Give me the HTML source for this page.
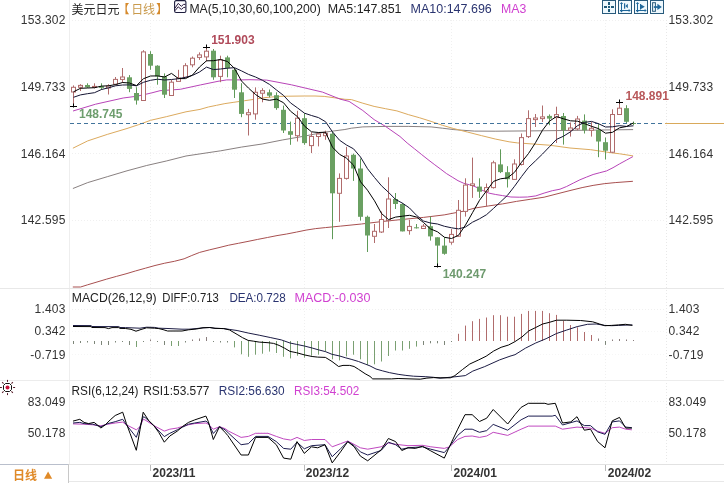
<!DOCTYPE html><html><head><meta charset="utf-8"><title>USDJPY</title><style>
html,body{margin:0;padding:0;background:#fff;width:724px;height:483px;overflow:hidden}
svg{display:block}
text{font-family:"Liberation Sans","Noto Sans CJK SC",sans-serif;font-size:12px}
.ax{fill:#333;letter-spacing:0.2px}
</style></head><body>
<svg width="724" height="483" viewBox="0 0 724 483">
<rect width="724" height="483" fill="#fff"/>
<line x1="69" y1="20.5" x2="666" y2="20.5" stroke="#f0f0f0" stroke-width="1" stroke-dasharray="1,2"/>
<line x1="69" y1="87.5" x2="666" y2="87.5" stroke="#f0f0f0" stroke-width="1" stroke-dasharray="1,2"/>
<line x1="69" y1="153.5" x2="666" y2="153.5" stroke="#f0f0f0" stroke-width="1" stroke-dasharray="1,2"/>
<line x1="69" y1="220.5" x2="666" y2="220.5" stroke="#f0f0f0" stroke-width="1" stroke-dasharray="1,2"/>
<line x1="69" y1="309.5" x2="666" y2="309.5" stroke="#f0f0f0" stroke-width="1" stroke-dasharray="1,2"/>
<line x1="69" y1="401.5" x2="666" y2="401.5" stroke="#f0f0f0" stroke-width="1" stroke-dasharray="1,2"/>
<line x1="69" y1="331.5" x2="666" y2="331.5" stroke="#f6f6f6" stroke-width="1" stroke-dasharray="1,2"/>
<line x1="69" y1="354.5" x2="666" y2="354.5" stroke="#f6f6f6" stroke-width="1" stroke-dasharray="1,2"/>
<line x1="69" y1="432.5" x2="666" y2="432.5" stroke="#f6f6f6" stroke-width="1" stroke-dasharray="1,2"/>
<line x1="150.5" y1="20" x2="150.5" y2="464" stroke="#f0f0f0" stroke-width="1" stroke-dasharray="1,2"/>
<line x1="304.5" y1="20" x2="304.5" y2="464" stroke="#f0f0f0" stroke-width="1" stroke-dasharray="1,2"/>
<line x1="451.5" y1="20" x2="451.5" y2="464" stroke="#f0f0f0" stroke-width="1" stroke-dasharray="1,2"/>
<line x1="605.5" y1="20" x2="605.5" y2="464" stroke="#f0f0f0" stroke-width="1" stroke-dasharray="1,2"/>
<line x1="69.5" y1="0" x2="69.5" y2="464" stroke="#eeeeee" stroke-width="1"/>
<line x1="666.5" y1="20" x2="666.5" y2="464" stroke="#e8e8e8" stroke-width="1" stroke-dasharray="1,2"/>
<line x1="0" y1="288.5" x2="724" y2="288.5" stroke="#e8e8e8" stroke-width="1"/>
<line x1="0" y1="380.5" x2="724" y2="380.5" stroke="#ececec" stroke-width="1"/>
<line x1="69" y1="464.5" x2="724" y2="464.5" stroke="#e2e2e2" stroke-width="1"/>
<line x1="69" y1="481.5" x2="724" y2="481.5" stroke="#e8e8e8" stroke-width="1"/>
<line x1="0" y1="464.5" x2="68" y2="464.5" stroke="#b9bfcc" stroke-width="1"/>
<line x1="68.5" y1="464" x2="68.5" y2="483" stroke="#c8c8c8" stroke-width="1"/>
<line x1="150.5" y1="465" x2="150.5" y2="471" stroke="#bbb" stroke-width="1"/>
<line x1="304.5" y1="465" x2="304.5" y2="471" stroke="#bbb" stroke-width="1"/>
<line x1="451.5" y1="465" x2="451.5" y2="471" stroke="#bbb" stroke-width="1"/>
<line x1="605.5" y1="465" x2="605.5" y2="471" stroke="#bbb" stroke-width="1"/>
<polyline points="72.8,287.0 80.6,287.0 87.3,284.9 97.0,282.0 106.7,279.1 116.4,276.4 126.0,273.8 135.7,270.9 145.4,268.2 155.0,265.5 164.7,263.2 174.4,261.3 184.1,258.8 191.8,255.5 199.7,252.4 209.3,249.9 219.0,247.6 228.7,245.2 238.4,243.3 248.0,241.4 257.7,239.4 267.4,237.5 277.0,235.6 286.7,234.0 296.4,232.1 306.1,230.1 315.7,228.6 325.4,227.6 340.7,226.1 361.4,224.0 382.1,221.5 402.8,219.4 423.5,217.4 444.2,214.9 463.5,211.2 475.0,208.0 488.8,205.9 502.6,203.9 516.4,201.4 530.2,199.3 544.1,197.2 560.0,193.1 571.0,190.3 582.1,187.6 593.1,185.4 604.2,183.7 615.2,182.6 632.9,181.3" fill="none" stroke="#a85050" stroke-width="1" stroke-linejoin="round" />
<polyline points="72.9,188.5 87.7,182.6 107.3,176.7 127.0,170.8 146.6,165.5 166.3,161.0 186.0,156.0 208.0,152.7 220.7,150.8 241.4,147.1 262.1,144.0 282.8,139.9 303.5,136.3 324.2,132.2 344.9,129.5 351.4,128.2 362.8,126.9 385.5,126.4 408.3,126.4 431.1,126.9 442.4,128.2 453.8,129.6 474.5,131.1 495.2,131.2 540.0,130.8 633.1,129.6" fill="none" stroke="#7a7272" stroke-width="0.9" stroke-linejoin="round" />
<polyline points="72.9,148.2 87.7,140.9 107.3,134.4 127.0,128.5 138.8,124.6 150.6,120.3 166.3,116.7 186.0,111.8 200.0,109.4 208.3,107.0 216.6,105.3 224.9,103.6 233.1,102.4 244.7,100.7 253.0,99.5 263.3,97.8 271.6,97.0 279.9,96.4 288.1,96.2 304.7,96.0 315.0,96.0 324.2,96.4 334.6,97.8 344.9,99.3 351.4,99.6 362.8,103.2 374.1,106.4 385.5,108.7 396.9,110.9 408.3,114.6 419.7,117.8 431.1,121.4 442.4,125.3 453.8,128.6 467.6,132.1 481.4,135.6 495.2,139.0 509.1,141.8 517.3,142.9 540.0,144.5 549.5,145.2 570.0,148.0 590.7,149.7 611.4,152.8 619.7,153.8 633.1,155.9" fill="none" stroke="#dcaa5e" stroke-width="1" stroke-linejoin="round" />
<polyline points="73.0,111.0 95.6,104.2 123.2,98.0 137.0,96.2 150.9,93.1 160.0,90.7 180.3,89.3 200.6,84.9 218.0,81.3 226.7,79.9 241.2,79.9 250.0,79.7 266.6,80.1 291.4,84.8 322.5,92.1 340.0,99.1 349.1,101.4 362.8,110.5 374.1,119.6 385.5,126.4 400.0,136.5 407.2,143.0 414.5,148.8 421.7,154.6 429.0,160.4 434.8,164.8 440.6,169.1 446.4,173.5 452.2,177.1 458.0,180.7 463.8,183.3 469.6,184.8 475.0,186.6 481.9,190.1 488.8,193.1 495.7,194.5 502.6,195.6 510.9,197.0 519.2,197.2 527.5,197.0 535.8,195.9 544.1,193.1 552.3,190.7 560.0,189.2 566.6,186.5 573.3,183.1 579.9,179.8 586.5,177.1 593.1,174.5 599.8,172.7 606.4,171.0 613.0,167.7 619.7,163.8 626.3,160.2 632.9,156.6" fill="none" stroke="#b844b8" stroke-width="1" stroke-linejoin="round" />
<line x1="70" y1="123.5" x2="665" y2="123.5" stroke="#42749c" stroke-width="1" stroke-dasharray="4,3"/>
<line x1="665" y1="123.5" x2="724" y2="123.5" stroke="#d9a95a" stroke-width="1"/>
<line x1="73.5" y1="85.4" x2="73.5" y2="87.3" stroke="#b06c6c"/>
<line x1="73.5" y1="92.0" x2="73.5" y2="106.5" stroke="#b06c6c"/>
<rect x="71.5" y="87.3" width="4" height="4.7" fill="#fff" stroke="#b06c6c"/>
<line x1="80.5" y1="84.2" x2="80.5" y2="85.4" stroke="#b06c6c"/>
<line x1="80.5" y1="87.3" x2="80.5" y2="91.0" stroke="#b06c6c"/>
<rect x="78.5" y="85.4" width="4" height="1.9" fill="#fff" stroke="#b06c6c"/>
<line x1="87.5" y1="83.3" x2="87.5" y2="87.9" stroke="#5f9a58"/>
<rect x="85.0" y="85.0" width="5" height="2.3" fill="#6aa062"/>
<line x1="94.5" y1="83.3" x2="94.5" y2="86.4" stroke="#b06c6c"/>
<line x1="94.5" y1="87.3" x2="94.5" y2="88.5" stroke="#b06c6c"/>
<rect x="92.5" y="86.4" width="4" height="1.0" fill="#fff" stroke="#b06c6c"/>
<line x1="101.5" y1="83.3" x2="101.5" y2="89.8" stroke="#5f9a58"/>
<rect x="99.0" y="86.3" width="5" height="1.6" fill="#6aa062"/>
<line x1="108.5" y1="84.2" x2="108.5" y2="86.0" stroke="#b06c6c"/>
<line x1="108.5" y1="88.0" x2="108.5" y2="94.5" stroke="#b06c6c"/>
<rect x="106.5" y="86.0" width="4" height="2.0" fill="#fff" stroke="#b06c6c"/>
<line x1="115.5" y1="77.0" x2="115.5" y2="79.4" stroke="#b06c6c"/>
<line x1="115.5" y1="84.2" x2="115.5" y2="85.4" stroke="#b06c6c"/>
<rect x="113.5" y="79.4" width="4" height="4.8" fill="#fff" stroke="#b06c6c"/>
<line x1="122.5" y1="68.0" x2="122.5" y2="77.0" stroke="#b06c6c"/>
<line x1="122.5" y1="79.4" x2="122.5" y2="83.0" stroke="#b06c6c"/>
<rect x="120.5" y="77.0" width="4" height="2.4" fill="#fff" stroke="#b06c6c"/>
<line x1="129.5" y1="75.1" x2="129.5" y2="92.2" stroke="#5f9a58"/>
<rect x="127.0" y="77.3" width="5" height="11.6" fill="#6aa062"/>
<line x1="136.5" y1="87.2" x2="136.5" y2="104.6" stroke="#5f9a58"/>
<rect x="134.0" y="93.0" width="5" height="7.5" fill="#6aa062"/>
<line x1="143.5" y1="50.2" x2="143.5" y2="51.9" stroke="#b06c6c"/>
<line x1="143.5" y1="100.5" x2="143.5" y2="100.5" stroke="#b06c6c"/>
<rect x="141.5" y="51.9" width="4" height="48.6" fill="#fff" stroke="#b06c6c"/>
<line x1="150.5" y1="51.2" x2="150.5" y2="69.8" stroke="#5f9a58"/>
<rect x="148.0" y="54.0" width="5" height="11.7" fill="#6aa062"/>
<line x1="157.5" y1="65.2" x2="157.5" y2="84.7" stroke="#5f9a58"/>
<rect x="155.0" y="65.7" width="5" height="10.7" fill="#6aa062"/>
<line x1="164.5" y1="73.4" x2="164.5" y2="98.0" stroke="#5f9a58"/>
<rect x="162.0" y="76.4" width="5" height="18.3" fill="#6aa062"/>
<line x1="171.5" y1="80.0" x2="171.5" y2="82.2" stroke="#b06c6c"/>
<line x1="171.5" y1="95.5" x2="171.5" y2="95.5" stroke="#b06c6c"/>
<rect x="169.5" y="82.2" width="4" height="13.3" fill="#fff" stroke="#b06c6c"/>
<line x1="178.5" y1="69.8" x2="178.5" y2="78.0" stroke="#b06c6c"/>
<line x1="178.5" y1="81.4" x2="178.5" y2="81.4" stroke="#b06c6c"/>
<rect x="176.5" y="78.0" width="4" height="3.4" fill="#fff" stroke="#b06c6c"/>
<line x1="185.5" y1="63.2" x2="185.5" y2="65.7" stroke="#b06c6c"/>
<line x1="185.5" y1="77.3" x2="185.5" y2="78.0" stroke="#b06c6c"/>
<rect x="183.5" y="65.7" width="4" height="11.6" fill="#fff" stroke="#b06c6c"/>
<line x1="192.5" y1="56.5" x2="192.5" y2="58.2" stroke="#b06c6c"/>
<line x1="192.5" y1="64.8" x2="192.5" y2="67.3" stroke="#b06c6c"/>
<rect x="190.5" y="58.2" width="4" height="6.6" fill="#fff" stroke="#b06c6c"/>
<line x1="199.5" y1="52.4" x2="199.5" y2="54.9" stroke="#b06c6c"/>
<line x1="199.5" y1="57.4" x2="199.5" y2="59.9" stroke="#b06c6c"/>
<rect x="197.5" y="54.9" width="4" height="2.5" fill="#fff" stroke="#b06c6c"/>
<line x1="206.5" y1="46.6" x2="206.5" y2="51.2" stroke="#b06c6c"/>
<line x1="206.5" y1="56.9" x2="206.5" y2="61.5" stroke="#b06c6c"/>
<rect x="204.5" y="51.2" width="4" height="5.7" fill="#fff" stroke="#b06c6c"/>
<line x1="213.5" y1="49.0" x2="213.5" y2="79.8" stroke="#5f9a58"/>
<rect x="211.0" y="50.7" width="5" height="26.6" fill="#6aa062"/>
<line x1="220.5" y1="55.7" x2="220.5" y2="59.9" stroke="#b06c6c"/>
<line x1="220.5" y1="76.4" x2="220.5" y2="82.2" stroke="#b06c6c"/>
<rect x="218.5" y="59.9" width="4" height="16.5" fill="#fff" stroke="#b06c6c"/>
<line x1="227.5" y1="55.7" x2="227.5" y2="77.3" stroke="#5f9a58"/>
<rect x="225.0" y="57.4" width="5" height="10.7" fill="#6aa062"/>
<line x1="234.5" y1="68.1" x2="234.5" y2="98.0" stroke="#5f9a58"/>
<rect x="232.0" y="69.8" width="5" height="19.9" fill="#6aa062"/>
<line x1="241.5" y1="83.2" x2="241.5" y2="117.2" stroke="#5f9a58"/>
<rect x="239.0" y="92.3" width="5" height="21.6" fill="#6aa062"/>
<line x1="248.5" y1="108.9" x2="248.5" y2="112.7" stroke="#b06c6c"/>
<line x1="248.5" y1="114.7" x2="248.5" y2="135.5" stroke="#b06c6c"/>
<rect x="246.5" y="112.7" width="4" height="2.0" fill="#fff" stroke="#b06c6c"/>
<line x1="255.5" y1="87.4" x2="255.5" y2="92.3" stroke="#b06c6c"/>
<line x1="255.5" y1="113.9" x2="255.5" y2="119.7" stroke="#b06c6c"/>
<rect x="253.5" y="92.3" width="4" height="21.6" fill="#fff" stroke="#b06c6c"/>
<line x1="262.5" y1="88.2" x2="262.5" y2="90.7" stroke="#b06c6c"/>
<line x1="262.5" y1="93.2" x2="262.5" y2="102.3" stroke="#b06c6c"/>
<rect x="260.5" y="90.7" width="4" height="2.5" fill="#fff" stroke="#b06c6c"/>
<line x1="269.5" y1="89.5" x2="269.5" y2="97.3" stroke="#5f9a58"/>
<rect x="267.0" y="92.3" width="5" height="3.4" fill="#6aa062"/>
<line x1="276.5" y1="92.3" x2="276.5" y2="109.8" stroke="#5f9a58"/>
<rect x="274.0" y="95.2" width="5" height="12.9" fill="#6aa062"/>
<line x1="283.5" y1="105.6" x2="283.5" y2="133.0" stroke="#5f9a58"/>
<rect x="281.0" y="109.8" width="5" height="20.7" fill="#6aa062"/>
<line x1="290.5" y1="121.6" x2="290.5" y2="144.8" stroke="#5f9a58"/>
<rect x="288.0" y="131.2" width="5" height="3.6" fill="#6aa062"/>
<line x1="297.5" y1="110.8" x2="297.5" y2="118.2" stroke="#b06c6c"/>
<line x1="297.5" y1="135.7" x2="297.5" y2="141.5" stroke="#b06c6c"/>
<rect x="295.5" y="118.2" width="4" height="17.5" fill="#fff" stroke="#b06c6c"/>
<line x1="304.5" y1="113.3" x2="304.5" y2="144.8" stroke="#5f9a58"/>
<rect x="302.0" y="118.2" width="5" height="24.9" fill="#6aa062"/>
<line x1="311.5" y1="132.3" x2="311.5" y2="136.5" stroke="#b06c6c"/>
<line x1="311.5" y1="145.6" x2="311.5" y2="153.1" stroke="#b06c6c"/>
<rect x="309.5" y="136.5" width="4" height="9.1" fill="#fff" stroke="#b06c6c"/>
<line x1="318.5" y1="132.3" x2="318.5" y2="134.0" stroke="#b06c6c"/>
<line x1="318.5" y1="136.5" x2="318.5" y2="146.4" stroke="#b06c6c"/>
<rect x="316.5" y="134.0" width="4" height="2.5" fill="#fff" stroke="#b06c6c"/>
<line x1="325.5" y1="130.7" x2="325.5" y2="133.2" stroke="#b06c6c"/>
<line x1="325.5" y1="135.7" x2="325.5" y2="139.8" stroke="#b06c6c"/>
<rect x="323.5" y="133.2" width="4" height="2.5" fill="#fff" stroke="#b06c6c"/>
<line x1="332.5" y1="131.2" x2="332.5" y2="239.2" stroke="#5f9a58"/>
<rect x="330.0" y="133.7" width="5" height="59.6" fill="#6aa062"/>
<line x1="339.5" y1="173.4" x2="339.5" y2="178.4" stroke="#b06c6c"/>
<line x1="339.5" y1="193.3" x2="339.5" y2="221.8" stroke="#b06c6c"/>
<rect x="337.5" y="178.4" width="4" height="14.9" fill="#fff" stroke="#b06c6c"/>
<line x1="346.5" y1="146.9" x2="346.5" y2="156.0" stroke="#b06c6c"/>
<line x1="346.5" y1="178.4" x2="346.5" y2="179.6" stroke="#b06c6c"/>
<rect x="344.5" y="156.0" width="4" height="22.4" fill="#fff" stroke="#b06c6c"/>
<line x1="353.5" y1="153.6" x2="353.5" y2="180.9" stroke="#5f9a58"/>
<rect x="351.0" y="154.8" width="5" height="13.7" fill="#6aa062"/>
<line x1="360.5" y1="158.5" x2="360.5" y2="220.6" stroke="#5f9a58"/>
<rect x="358.0" y="168.5" width="5" height="48.3" fill="#6aa062"/>
<line x1="367.5" y1="215.6" x2="367.5" y2="252.0" stroke="#5f9a58"/>
<rect x="365.0" y="216.8" width="5" height="18.7" fill="#6aa062"/>
<line x1="374.5" y1="224.0" x2="374.5" y2="231.3" stroke="#b06c6c"/>
<line x1="374.5" y1="236.3" x2="374.5" y2="243.0" stroke="#b06c6c"/>
<rect x="372.5" y="231.3" width="4" height="5.0" fill="#fff" stroke="#b06c6c"/>
<line x1="381.5" y1="211.5" x2="381.5" y2="219.5" stroke="#b06c6c"/>
<line x1="381.5" y1="232.0" x2="381.5" y2="233.0" stroke="#b06c6c"/>
<rect x="379.5" y="219.5" width="4" height="12.5" fill="#fff" stroke="#b06c6c"/>
<line x1="388.5" y1="177.3" x2="388.5" y2="199.0" stroke="#b06c6c"/>
<line x1="388.5" y1="220.6" x2="388.5" y2="228.0" stroke="#b06c6c"/>
<rect x="386.5" y="199.0" width="4" height="21.6" fill="#fff" stroke="#b06c6c"/>
<line x1="395.5" y1="193.0" x2="395.5" y2="209.0" stroke="#5f9a58"/>
<rect x="393.0" y="199.0" width="5" height="5.0" fill="#6aa062"/>
<line x1="402.5" y1="203.0" x2="402.5" y2="231.4" stroke="#5f9a58"/>
<rect x="400.0" y="204.0" width="5" height="27.4" fill="#6aa062"/>
<line x1="409.5" y1="219.8" x2="409.5" y2="226.4" stroke="#b06c6c"/>
<line x1="409.5" y1="230.6" x2="409.5" y2="234.7" stroke="#b06c6c"/>
<rect x="407.5" y="226.4" width="4" height="4.2" fill="#fff" stroke="#b06c6c"/>
<line x1="416.5" y1="224.0" x2="416.5" y2="228.5" stroke="#5f9a58"/>
<rect x="414.0" y="227.3" width="5" height="1.0" fill="#6aa062"/>
<line x1="423.5" y1="224.0" x2="423.5" y2="226.2" stroke="#b06c6c"/>
<line x1="423.5" y1="228.5" x2="423.5" y2="228.5" stroke="#b06c6c"/>
<rect x="421.5" y="226.2" width="4" height="2.3" fill="#fff" stroke="#b06c6c"/>
<line x1="430.5" y1="216.5" x2="430.5" y2="240.6" stroke="#5f9a58"/>
<rect x="428.0" y="226.2" width="5" height="10.2" fill="#6aa062"/>
<line x1="437.5" y1="237.3" x2="437.5" y2="266.3" stroke="#5f9a58"/>
<rect x="435.0" y="237.3" width="5" height="8.3" fill="#6aa062"/>
<line x1="444.5" y1="237.3" x2="444.5" y2="254.7" stroke="#5f9a58"/>
<rect x="442.0" y="245.6" width="5" height="8.2" fill="#6aa062"/>
<line x1="451.5" y1="229.0" x2="451.5" y2="234.4" stroke="#b06c6c"/>
<line x1="451.5" y1="242.2" x2="451.5" y2="244.7" stroke="#b06c6c"/>
<rect x="449.5" y="234.4" width="4" height="7.8" fill="#fff" stroke="#b06c6c"/>
<line x1="458.5" y1="200.0" x2="458.5" y2="210.3" stroke="#b06c6c"/>
<line x1="458.5" y1="236.2" x2="458.5" y2="237.0" stroke="#b06c6c"/>
<rect x="456.5" y="210.3" width="4" height="25.9" fill="#fff" stroke="#b06c6c"/>
<line x1="465.5" y1="178.3" x2="465.5" y2="185.1" stroke="#b06c6c"/>
<line x1="465.5" y1="211.4" x2="465.5" y2="216.6" stroke="#b06c6c"/>
<rect x="463.5" y="185.1" width="4" height="26.3" fill="#fff" stroke="#b06c6c"/>
<line x1="472.5" y1="157.6" x2="472.5" y2="183.9" stroke="#b06c6c"/>
<line x1="472.5" y1="185.5" x2="472.5" y2="197.9" stroke="#b06c6c"/>
<rect x="470.5" y="183.9" width="4" height="1.6" fill="#fff" stroke="#b06c6c"/>
<line x1="479.5" y1="178.3" x2="479.5" y2="197.9" stroke="#5f9a58"/>
<rect x="477.0" y="186.6" width="5" height="5.1" fill="#6aa062"/>
<line x1="486.5" y1="183.5" x2="486.5" y2="187.6" stroke="#b06c6c"/>
<line x1="486.5" y1="191.3" x2="486.5" y2="206.2" stroke="#b06c6c"/>
<rect x="484.5" y="187.6" width="4" height="3.7" fill="#fff" stroke="#b06c6c"/>
<line x1="493.5" y1="160.7" x2="493.5" y2="162.8" stroke="#b06c6c"/>
<line x1="493.5" y1="187.6" x2="493.5" y2="188.6" stroke="#b06c6c"/>
<rect x="491.5" y="162.8" width="4" height="24.8" fill="#fff" stroke="#b06c6c"/>
<line x1="500.5" y1="149.3" x2="500.5" y2="173.1" stroke="#5f9a58"/>
<rect x="498.0" y="164.4" width="5" height="7.7" fill="#6aa062"/>
<line x1="507.5" y1="166.2" x2="507.5" y2="187.5" stroke="#5f9a58"/>
<rect x="505.0" y="172.2" width="5" height="7.0" fill="#6aa062"/>
<line x1="514.5" y1="159.3" x2="514.5" y2="164.0" stroke="#b06c6c"/>
<line x1="514.5" y1="179.4" x2="514.5" y2="180.0" stroke="#b06c6c"/>
<rect x="512.5" y="164.0" width="4" height="15.4" fill="#fff" stroke="#b06c6c"/>
<line x1="521.5" y1="133.5" x2="521.5" y2="137.6" stroke="#b06c6c"/>
<line x1="521.5" y1="164.5" x2="521.5" y2="165.5" stroke="#b06c6c"/>
<rect x="519.5" y="137.6" width="4" height="26.9" fill="#fff" stroke="#b06c6c"/>
<line x1="528.5" y1="110.3" x2="528.5" y2="118.6" stroke="#b06c6c"/>
<line x1="528.5" y1="136.6" x2="528.5" y2="138.0" stroke="#b06c6c"/>
<rect x="526.5" y="118.6" width="4" height="18.0" fill="#fff" stroke="#b06c6c"/>
<line x1="535.5" y1="114.0" x2="535.5" y2="118.0" stroke="#b06c6c"/>
<line x1="535.5" y1="119.6" x2="535.5" y2="127.0" stroke="#b06c6c"/>
<rect x="533.5" y="118.0" width="4" height="1.6" fill="#fff" stroke="#b06c6c"/>
<line x1="542.5" y1="105.5" x2="542.5" y2="116.9" stroke="#b06c6c"/>
<line x1="542.5" y1="118.6" x2="542.5" y2="122.0" stroke="#b06c6c"/>
<rect x="540.5" y="116.9" width="4" height="1.7" fill="#fff" stroke="#b06c6c"/>
<line x1="549.5" y1="114.4" x2="549.5" y2="125.2" stroke="#5f9a58"/>
<rect x="547.0" y="115.9" width="5" height="2.7" fill="#6aa062"/>
<line x1="556.5" y1="106.7" x2="556.5" y2="114.6" stroke="#b06c6c"/>
<line x1="556.5" y1="117.6" x2="556.5" y2="143.0" stroke="#b06c6c"/>
<rect x="554.5" y="114.6" width="4" height="3.0" fill="#fff" stroke="#b06c6c"/>
<line x1="563.5" y1="113.0" x2="563.5" y2="144.6" stroke="#5f9a58"/>
<rect x="561.0" y="116.0" width="5" height="14.0" fill="#6aa062"/>
<line x1="570.5" y1="122.5" x2="570.5" y2="128.0" stroke="#b06c6c"/>
<line x1="570.5" y1="130.3" x2="570.5" y2="136.6" stroke="#b06c6c"/>
<rect x="568.5" y="128.0" width="4" height="2.3" fill="#fff" stroke="#b06c6c"/>
<line x1="577.5" y1="115.9" x2="577.5" y2="119.0" stroke="#b06c6c"/>
<line x1="577.5" y1="128.9" x2="577.5" y2="130.3" stroke="#b06c6c"/>
<rect x="575.5" y="119.0" width="4" height="9.9" fill="#fff" stroke="#b06c6c"/>
<line x1="584.5" y1="114.4" x2="584.5" y2="133.5" stroke="#5f9a58"/>
<rect x="582.0" y="120.6" width="5" height="9.7" fill="#6aa062"/>
<line x1="591.5" y1="122.1" x2="591.5" y2="128.3" stroke="#b06c6c"/>
<line x1="591.5" y1="130.3" x2="591.5" y2="136.6" stroke="#b06c6c"/>
<rect x="589.5" y="128.3" width="4" height="2.0" fill="#fff" stroke="#b06c6c"/>
<line x1="598.5" y1="124.1" x2="598.5" y2="157.2" stroke="#5f9a58"/>
<rect x="596.0" y="130.0" width="5" height="11.5" fill="#6aa062"/>
<line x1="605.5" y1="137.5" x2="605.5" y2="159.5" stroke="#5f9a58"/>
<rect x="603.0" y="142.2" width="5" height="8.5" fill="#6aa062"/>
<line x1="612.5" y1="109.3" x2="612.5" y2="114.5" stroke="#b06c6c"/>
<line x1="612.5" y1="152.2" x2="612.5" y2="153.0" stroke="#b06c6c"/>
<rect x="610.5" y="114.5" width="4" height="37.7" fill="#fff" stroke="#b06c6c"/>
<line x1="619.5" y1="102.4" x2="619.5" y2="108.2" stroke="#b06c6c"/>
<line x1="619.5" y1="114.5" x2="619.5" y2="114.5" stroke="#b06c6c"/>
<rect x="617.5" y="108.2" width="4" height="6.3" fill="#fff" stroke="#b06c6c"/>
<line x1="626.5" y1="105.2" x2="626.5" y2="123.1" stroke="#5f9a58"/>
<rect x="624.0" y="108.2" width="5" height="13.6" fill="#6aa062"/>
<line x1="633.5" y1="121.5" x2="633.5" y2="125.0" stroke="#5f9a58"/>
<rect x="631.0" y="123.0" width="5" height="1.0" fill="#6aa062"/>
<polyline points="73.5,97.3 80.5,94.9 87.5,93.7 94.5,92.7 101.5,89.5 108.5,87.8 115.5,85.8 122.5,85.0 129.5,84.9 136.5,85.8 143.5,82.3 150.5,80.3 157.5,79.2 164.5,80.0 171.5,79.5 178.5,78.7 185.5,77.3 192.5,75.4 199.5,72.0 206.5,67.1 213.5,69.6 220.5,69.0 227.5,68.2 234.5,67.7 241.5,70.9 248.5,74.4 255.5,77.0 262.5,80.3 269.5,84.4 276.5,90.0 283.5,95.4 290.5,102.9 297.5,107.9 304.5,113.2 311.5,115.5 318.5,117.6 325.5,121.7 332.5,131.9 339.5,140.2 346.5,145.0 353.5,148.8 360.5,157.0 367.5,168.7 374.5,177.5 381.5,185.8 388.5,192.3 395.5,199.4 402.5,203.2 409.5,208.0 416.5,215.3 423.5,221.0 430.5,223.0 437.5,224.0 444.5,226.3 451.5,227.8 458.5,228.9 465.5,227.0 472.5,222.2 479.5,218.8 486.5,214.7 493.5,208.4 500.5,201.9 507.5,195.3 514.5,186.3 521.5,176.6 528.5,167.5 535.5,160.8 542.5,154.0 549.5,146.7 556.5,139.4 563.5,136.2 570.5,131.8 577.5,125.7 584.5,122.4 591.5,121.4 598.5,123.7 605.5,127.0 612.5,126.8 619.5,125.7 626.5,126.4 633.5,125.8" fill="none" stroke="#141432" stroke-width="1" stroke-linejoin="round" />
<polyline points="73.5,91.8 80.5,88.3 87.5,88.0 94.5,87.7 101.5,86.1 108.5,85.8 115.5,84.6 122.5,82.5 129.5,83.0 136.5,85.6 143.5,78.7 150.5,76.0 157.5,75.9 164.5,77.0 171.5,73.4 178.5,78.6 185.5,78.6 192.5,75.0 199.5,67.0 206.5,60.8 213.5,60.7 220.5,59.5 227.5,61.5 234.5,68.4 241.5,81.0 248.5,88.1 255.5,94.5 262.5,99.1 269.5,100.3 276.5,99.1 283.5,102.7 290.5,111.2 297.5,116.7 304.5,126.1 311.5,131.8 318.5,132.5 325.5,132.2 332.5,147.2 339.5,154.3 346.5,158.2 353.5,165.1 360.5,181.8 367.5,190.2 374.5,200.8 381.5,213.5 388.5,219.6 395.5,217.1 402.5,216.2 409.5,215.3 416.5,217.0 423.5,222.5 430.5,228.9 437.5,231.8 444.5,237.3 451.5,238.5 458.5,235.3 465.5,225.0 472.5,212.7 479.5,200.3 486.5,190.9 493.5,181.4 500.5,178.8 507.5,177.9 514.5,172.3 521.5,162.3 528.5,153.5 535.5,142.7 542.5,130.2 549.5,121.1 556.5,116.5 563.5,118.8 570.5,120.8 577.5,121.2 584.5,123.6 591.5,126.3 598.5,128.6 605.5,133.2 612.5,132.3 619.5,127.8 626.5,126.5 633.5,122.9" fill="none" stroke="#000" stroke-width="1" stroke-linejoin="round" />
<line x1="70.0" y1="106.5" x2="77.0" y2="106.5" stroke="#000"/>
<line x1="73.5" y1="103.5" x2="73.5" y2="107.5" stroke="#000"/>
<line x1="203.0" y1="47.5" x2="210.0" y2="47.5" stroke="#000"/>
<line x1="206.5" y1="44.5" x2="206.5" y2="48.5" stroke="#000"/>
<line x1="434.0" y1="266.5" x2="441.0" y2="266.5" stroke="#000"/>
<line x1="437.5" y1="263.5" x2="437.5" y2="267.5" stroke="#000"/>
<line x1="616.0" y1="102.5" x2="623.0" y2="102.5" stroke="#000"/>
<line x1="619.5" y1="99.5" x2="619.5" y2="103.5" stroke="#000"/>
<text x="211.2" y="44" font-weight="bold" fill="#b04a5a">151.903</text>
<text x="625.5" y="99.5" font-weight="bold" fill="#b8585a">148.891</text>
<text x="79" y="117.5" font-weight="bold" fill="#6e9e6e">148.745</text>
<text x="442.7" y="278" font-weight="bold" fill="#6e9a6e">140.247</text>
<line x1="73.5" y1="341.0" x2="73.5" y2="344.0" stroke="#7d8679"/>
<line x1="80.5" y1="341.0" x2="80.5" y2="343.0" stroke="#7d8679"/>
<line x1="87.5" y1="341.0" x2="87.5" y2="342.5" stroke="#7d8679"/>
<line x1="94.5" y1="341.0" x2="94.5" y2="344.0" stroke="#7d8679"/>
<line x1="101.5" y1="341.0" x2="101.5" y2="345.0" stroke="#7d8679"/>
<line x1="108.5" y1="341.0" x2="108.5" y2="345.0" stroke="#7d8679"/>
<line x1="115.5" y1="341.0" x2="115.5" y2="342.5" stroke="#7d8679"/>
<line x1="122.5" y1="341.0" x2="122.5" y2="342.0" stroke="#7d8679"/>
<line x1="129.5" y1="341.0" x2="129.5" y2="345.0" stroke="#7d8679"/>
<line x1="136.5" y1="341.0" x2="136.5" y2="347.0" stroke="#7aa072"/>
<line x1="143.5" y1="341.0" x2="143.5" y2="342.0" stroke="#7d8679"/>
<line x1="150.5" y1="341.0" x2="150.5" y2="339.5" stroke="#8a7d7d"/>
<line x1="157.5" y1="341.0" x2="157.5" y2="342.0" stroke="#7d8679"/>
<line x1="164.5" y1="341.0" x2="164.5" y2="345.0" stroke="#7d8679"/>
<line x1="171.5" y1="341.0" x2="171.5" y2="346.0" stroke="#7aa072"/>
<line x1="178.5" y1="341.0" x2="178.5" y2="346.0" stroke="#7aa072"/>
<line x1="185.5" y1="341.0" x2="185.5" y2="342.5" stroke="#7d8679"/>
<line x1="192.5" y1="341.0" x2="192.5" y2="339.5" stroke="#8a7d7d"/>
<line x1="199.5" y1="341.0" x2="199.5" y2="338.5" stroke="#8a7d7d"/>
<line x1="206.5" y1="341.0" x2="206.5" y2="337.0" stroke="#8a7d7d"/>
<line x1="213.5" y1="341.0" x2="213.5" y2="342.0" stroke="#7d8679"/>
<line x1="220.5" y1="341.0" x2="220.5" y2="342.5" stroke="#7d8679"/>
<line x1="227.5" y1="341.0" x2="227.5" y2="342.5" stroke="#7d8679"/>
<line x1="234.5" y1="341.0" x2="234.5" y2="347.4" stroke="#7aa072"/>
<line x1="241.5" y1="341.0" x2="241.5" y2="354.3" stroke="#7aa072"/>
<line x1="248.5" y1="341.0" x2="248.5" y2="356.8" stroke="#7aa072"/>
<line x1="255.5" y1="341.0" x2="255.5" y2="354.7" stroke="#7aa072"/>
<line x1="262.5" y1="341.0" x2="262.5" y2="353.7" stroke="#7aa072"/>
<line x1="269.5" y1="341.0" x2="269.5" y2="351.6" stroke="#7aa072"/>
<line x1="276.5" y1="341.0" x2="276.5" y2="353.0" stroke="#7aa072"/>
<line x1="283.5" y1="341.0" x2="283.5" y2="356.8" stroke="#7aa072"/>
<line x1="290.5" y1="341.0" x2="290.5" y2="358.4" stroke="#7aa072"/>
<line x1="297.5" y1="341.0" x2="297.5" y2="355.7" stroke="#7aa072"/>
<line x1="304.5" y1="341.0" x2="304.5" y2="357.7" stroke="#7aa072"/>
<line x1="311.5" y1="341.0" x2="311.5" y2="355.7" stroke="#7aa072"/>
<line x1="318.5" y1="341.0" x2="318.5" y2="354.7" stroke="#7aa072"/>
<line x1="325.5" y1="341.0" x2="325.5" y2="351.6" stroke="#7aa072"/>
<line x1="332.5" y1="341.0" x2="332.5" y2="359.3" stroke="#7aa072"/>
<line x1="339.5" y1="341.0" x2="339.5" y2="360.4" stroke="#7aa072"/>
<line x1="346.5" y1="341.0" x2="346.5" y2="356.4" stroke="#7aa072"/>
<line x1="353.5" y1="341.0" x2="353.5" y2="354.7" stroke="#7aa072"/>
<line x1="360.5" y1="341.0" x2="360.5" y2="359.3" stroke="#7aa072"/>
<line x1="367.5" y1="341.0" x2="367.5" y2="364.8" stroke="#7aa072"/>
<line x1="374.5" y1="341.0" x2="374.5" y2="364.3" stroke="#7aa072"/>
<line x1="381.5" y1="341.0" x2="381.5" y2="361.5" stroke="#7aa072"/>
<line x1="388.5" y1="341.0" x2="388.5" y2="356.0" stroke="#7aa072"/>
<line x1="395.5" y1="341.0" x2="395.5" y2="350.5" stroke="#7aa072"/>
<line x1="402.5" y1="341.0" x2="402.5" y2="350.5" stroke="#7aa072"/>
<line x1="409.5" y1="341.0" x2="409.5" y2="348.8" stroke="#7aa072"/>
<line x1="416.5" y1="341.0" x2="416.5" y2="346.6" stroke="#7aa072"/>
<line x1="423.5" y1="341.0" x2="423.5" y2="345.0" stroke="#7d8679"/>
<line x1="430.5" y1="341.0" x2="430.5" y2="343.3" stroke="#7d8679"/>
<line x1="437.5" y1="341.0" x2="437.5" y2="343.3" stroke="#7d8679"/>
<line x1="444.5" y1="341.0" x2="444.5" y2="345.0" stroke="#7d8679"/>
<line x1="451.5" y1="341.0" x2="451.5" y2="342.0" stroke="#7d8679"/>
<line x1="458.5" y1="341.0" x2="458.5" y2="333.8" stroke="#b06c6c"/>
<line x1="465.5" y1="341.0" x2="465.5" y2="325.6" stroke="#b06c6c"/>
<line x1="472.5" y1="341.0" x2="472.5" y2="321.2" stroke="#b06c6c"/>
<line x1="479.5" y1="341.0" x2="479.5" y2="318.9" stroke="#b06c6c"/>
<line x1="486.5" y1="341.0" x2="486.5" y2="317.5" stroke="#b06c6c"/>
<line x1="493.5" y1="341.0" x2="493.5" y2="315.2" stroke="#b06c6c"/>
<line x1="500.5" y1="341.0" x2="500.5" y2="315.2" stroke="#b06c6c"/>
<line x1="507.5" y1="341.0" x2="507.5" y2="316.7" stroke="#b06c6c"/>
<line x1="514.5" y1="341.0" x2="514.5" y2="316.7" stroke="#b06c6c"/>
<line x1="521.5" y1="341.0" x2="521.5" y2="313.9" stroke="#b06c6c"/>
<line x1="528.5" y1="341.0" x2="528.5" y2="310.9" stroke="#b06c6c"/>
<line x1="535.5" y1="341.0" x2="535.5" y2="310.9" stroke="#b06c6c"/>
<line x1="542.5" y1="341.0" x2="542.5" y2="310.9" stroke="#b06c6c"/>
<line x1="549.5" y1="341.0" x2="549.5" y2="313.2" stroke="#b06c6c"/>
<line x1="556.5" y1="341.0" x2="556.5" y2="314.9" stroke="#b06c6c"/>
<line x1="563.5" y1="341.0" x2="563.5" y2="321.0" stroke="#b06c6c"/>
<line x1="570.5" y1="341.0" x2="570.5" y2="325.0" stroke="#b06c6c"/>
<line x1="577.5" y1="341.0" x2="577.5" y2="327.3" stroke="#b06c6c"/>
<line x1="584.5" y1="341.0" x2="584.5" y2="332.0" stroke="#b06c6c"/>
<line x1="591.5" y1="341.0" x2="591.5" y2="335.0" stroke="#b06c6c"/>
<line x1="598.5" y1="341.0" x2="598.5" y2="338.5" stroke="#8a7d7d"/>
<line x1="605.5" y1="341.0" x2="605.5" y2="344.9" stroke="#7d8679"/>
<line x1="612.5" y1="341.0" x2="612.5" y2="339.5" stroke="#8a7d7d"/>
<line x1="619.5" y1="341.0" x2="619.5" y2="339.0" stroke="#8a7d7d"/>
<line x1="626.5" y1="341.0" x2="626.5" y2="339.5" stroke="#8a7d7d"/>
<line x1="633.5" y1="341.0" x2="633.5" y2="340.0" stroke="#8a7d7d"/>
<polyline points="73.0,325.5 91.0,325.6 92.0,326.5 105.0,326.6 118.8,326.6 120.0,327.5 125.5,327.6 140.0,328.2 146.6,327.2 154.4,327.4 158.8,328.2 168.0,328.5 182.0,329.2 189.0,329.2 196.0,328.6 203.0,327.8 210.0,327.5 215.0,328.3 223.8,328.6 229.4,329.4 237.1,330.5 248.1,333.0 259.2,335.2 270.2,337.5 281.3,339.9 290.0,343.0 296.6,344.4 304.4,346.0 312.1,348.0 318.7,349.9 325.4,351.6 332.0,354.3 339.7,356.0 345.2,357.7 351.9,359.5 358.5,361.5 365.1,364.0 370.0,365.9 376.0,369.0 382.7,370.9 389.3,372.6 398.1,374.3 405.9,375.4 413.6,376.2 425.8,376.7 433.5,377.3 440.0,378.2 454.9,376.8 465.3,375.6 472.8,371.1 484.7,366.6 499.6,359.9 510.0,356.2 515.0,354.7 525.4,348.2 535.7,343.0 546.1,338.7 556.5,333.5 566.8,330.0 577.2,326.6 587.5,324.3 596.2,324.0 604.8,325.4 611.7,325.7 618.6,325.4 632.4,324.9" fill="none" stroke="#1c1c44" stroke-width="1" stroke-linejoin="round" />
<polyline points="73.0,326.5 91.0,326.6 92.0,327.5 105.0,327.6 108.5,328.6 112.0,327.6 118.8,327.6 120.0,328.4 125.5,328.5 131.0,329.3 136.0,331.2 141.0,329.5 146.6,327.8 154.4,328.2 158.8,328.6 163.0,329.6 167.6,331.0 182.0,331.0 188.6,329.8 196.4,329.0 203.0,327.8 209.6,327.5 215.0,328.3 223.8,328.6 229.4,329.9 237.1,334.4 242.6,337.7 248.1,340.4 253.7,341.2 259.2,342.1 268.0,342.7 273.6,343.4 279.1,345.4 284.6,348.2 290.0,351.4 296.6,352.7 304.4,354.9 312.1,356.5 317.6,357.1 325.4,357.4 332.0,361.5 338.6,366.5 343.0,365.4 349.7,365.4 354.1,366.5 358.5,369.3 365.1,373.7 370.0,376.4 372.7,378.9 391.5,378.9 398.1,378.5 420.2,379.2 426.9,378.1 433.5,377.6 440.1,377.8 450.4,377.8 454.9,375.6 462.4,369.6 469.8,364.0 478.7,359.9 486.2,356.2 493.7,351.0 501.1,347.3 508.6,345.0 515.0,341.6 521.9,337.0 528.8,330.9 535.7,327.5 542.6,324.0 549.5,322.3 556.5,320.2 566.8,320.2 580.6,320.5 592.7,321.8 599.6,324.0 604.8,325.7 611.7,325.4 618.6,324.9 625.5,324.3 632.4,325.4" fill="none" stroke="#000" stroke-width="1" stroke-linejoin="round" />
<polyline points="73.0,423.9 84.1,424.2 92.8,424.8 100.9,425.8 107.8,424.2 115.2,423.0 122.7,422.1 126.4,424.8 136.3,429.8 140.0,426.7 143.2,419.3 145.0,419.9 153.7,425.5 164.3,431.1 169.8,429.2 177.3,428.0 182.3,426.5 188.5,424.8 194.7,423.6 205.9,423.0 208.4,424.2 213.3,429.2 219.5,426.7 225.0,428.6 228.7,431.2 241.1,437.4 248.4,436.4 255.6,433.3 268.0,433.3 276.3,436.4 283.6,438.9 290.8,440.1 297.0,437.4 304.3,440.5 311.5,439.5 325.0,439.5 332.2,446.8 340.5,443.7 347.8,441.0 360.4,447.8 367.7,449.2 381.1,446.8 388.4,443.0 395.6,444.3 408.0,445.7 422.5,445.3 430.8,446.8 444.3,448.4 449.4,446.8 457.7,439.5 465.0,436.4 472.2,436.0 479.5,437.4 486.7,436.0 493.2,432.3 507.7,435.4 521.1,429.2 528.4,426.1 555.3,426.1 562.5,429.2 577.0,427.1 590.5,428.1 597.7,431.2 605.0,433.3 612.2,427.7 619.5,427.1 625.7,429.2 631.9,429.8" fill="none" stroke="#c048c0" stroke-width="1" stroke-linejoin="round" />
<polyline points="73.0,423.0 79.8,422.4 84.1,423.6 92.8,424.2 100.9,426.7 107.8,423.6 115.2,421.7 122.7,419.3 126.4,424.8 136.3,437.3 140.0,426.7 143.2,416.8 145.0,417.4 153.7,425.5 164.3,436.6 169.8,433.3 177.3,429.8 182.3,427.3 188.5,424.2 194.7,423.0 205.9,421.1 208.4,423.0 213.3,433.5 219.5,426.7 225.0,429.8 228.7,433.3 241.1,444.7 248.4,443.7 255.6,436.4 268.0,436.4 276.3,441.6 283.6,448.4 290.8,449.2 297.0,442.2 304.3,448.8 311.5,445.7 325.0,444.7 332.2,456.7 340.5,448.8 347.8,441.6 354.2,445.7 360.4,451.9 367.7,455.0 381.1,450.5 388.4,442.2 395.6,444.7 401.8,449.2 408.0,447.8 422.5,446.8 430.8,449.2 444.3,452.6 449.4,446.8 457.7,435.4 465.0,429.2 472.2,429.2 479.5,432.3 486.7,430.6 493.2,424.4 507.7,430.2 521.1,419.8 528.4,416.1 552.2,416.1 555.3,415.3 562.5,425.0 577.0,420.9 584.3,425.6 590.5,425.6 597.7,431.9 605.0,434.3 612.2,421.9 619.5,420.9 625.7,427.1 631.9,427.7" fill="none" stroke="#1c1c50" stroke-width="1" stroke-linejoin="round" />
<polyline points="73.0,421.1 79.8,419.3 84.1,422.4 88.5,423.6 94.1,422.4 97.2,424.8 100.9,428.0 105.3,424.8 110.2,419.9 115.2,415.5 122.7,412.2 126.4,423.6 130.1,433.5 136.3,450.3 140.0,429.8 143.2,412.2 148.7,420.5 153.7,425.5 158.7,432.3 164.3,442.2 169.8,436.0 177.3,431.1 182.3,426.7 188.5,422.4 194.7,419.9 205.9,416.1 208.4,421.7 213.3,439.5 219.5,426.7 225.0,432.3 227.7,435.4 241.1,455.0 248.4,455.0 255.6,437.4 268.0,437.4 276.3,444.7 283.6,458.1 290.8,459.2 297.0,441.6 304.3,453.4 311.5,446.8 317.7,447.8 325.0,444.7 332.2,462.9 340.5,451.9 347.8,441.6 354.2,446.8 360.4,456.1 367.7,460.8 381.1,449.9 388.4,438.5 395.6,441.6 401.8,450.5 408.0,447.8 415.3,448.4 422.5,446.3 430.8,450.9 444.3,458.1 449.4,446.8 457.7,429.2 465.0,414.7 472.2,414.7 479.5,421.5 486.7,418.2 493.2,409.5 507.7,424.0 514.9,414.7 521.1,407.4 528.4,403.3 544.9,403.3 548.0,404.3 555.3,403.3 562.5,423.0 570.8,421.9 577.0,416.7 584.3,430.2 590.5,429.2 597.7,441.6 605.0,447.8 612.2,420.9 619.5,417.4 625.7,428.1 631.9,428.1" fill="none" stroke="#000" stroke-width="1" stroke-linejoin="round" />
<text class="ax" x="65.6" y="24.2" text-anchor="end">153.302</text>
<text class="ax" x="668.5" y="24.2" text-anchor="start">153.302</text>
<text class="ax" x="65.6" y="91.2" text-anchor="end">149.733</text>
<text class="ax" x="668.5" y="91.2" text-anchor="start">149.733</text>
<text class="ax" x="65.6" y="157.6" text-anchor="end">146.164</text>
<text class="ax" x="668.5" y="157.6" text-anchor="start">146.164</text>
<text class="ax" x="65.6" y="224.2" text-anchor="end">142.595</text>
<text class="ax" x="668.5" y="224.2" text-anchor="start">142.595</text>
<text class="ax" x="65.6" y="312.8" text-anchor="end">1.403</text>
<text class="ax" x="668.5" y="312.8" text-anchor="start">1.403</text>
<text class="ax" x="65.6" y="335.4" text-anchor="end">0.342</text>
<text class="ax" x="668.5" y="335.4" text-anchor="start">0.342</text>
<text class="ax" x="65.6" y="359.2" text-anchor="end">-0.719</text>
<text class="ax" x="668.5" y="359.2" text-anchor="start">-0.719</text>
<text class="ax" x="65.6" y="405.9" text-anchor="end">83.049</text>
<text class="ax" x="668.5" y="405.9" text-anchor="start">83.049</text>
<text class="ax" x="65.6" y="437" text-anchor="end">50.178</text>
<text class="ax" x="668.5" y="437" text-anchor="start">50.178</text>
<text x="71.5" y="13.5" fill="#222" style="font-family:'Noto Sans CJK SC',sans-serif">美元日元</text>
<text x="117.4" y="13.5" fill="#d68a2c" style="font-family:'Noto Sans CJK SC',sans-serif">【</text>
<text x="131.3" y="13.5" fill="#c99a4c" style="font-family:'Noto Sans CJK SC',sans-serif">日</text>
<text x="142.9" y="13.5" fill="#c99a4c" style="font-family:'Noto Sans CJK SC',sans-serif">线</text>
<text x="156.1" y="13.5" fill="#d68a2c" style="font-family:'Noto Sans CJK SC',sans-serif">】</text>
<rect x="174.6" y="0.6" width="11.3" height="11.9" rx="1.5" fill="#fcfbff" stroke="#1c1c3c" stroke-width="1.1"/>
<polyline points="175,8.1 178.2,3.4 181.3,6.3 183.6,4.4 185.4,4.4" fill="none" stroke="#2a1a3a" stroke-width="1"/>
<polyline points="175,10.7 178.2,6.8 181.3,9.4 183.6,7.5 185.4,7.3" fill="none" stroke="#2a1a3a" stroke-width="1"/>
<text x="189.4" y="12.7" fill="#222" textLength="131.3" lengthAdjust="spacingAndGlyphs">MA(5,10,30,60,100,200)</text>
<text x="327.7" y="12.7" fill="#222" textLength="73.8" lengthAdjust="spacingAndGlyphs">MA5:147.851</text>
<text x="410.6" y="12.7" fill="#2a3470" textLength="81.2" lengthAdjust="spacingAndGlyphs">MA10:147.696</text>
<text x="501" y="12.7" fill="#d040d0" textLength="25.3" lengthAdjust="spacingAndGlyphs">MA3</text>
<rect x="602.5" y="0.5" width="13.0" height="13" fill="#eef8fd" stroke="#285a7c" stroke-width="1"/>
<rect x="618.5" y="0.5" width="13.0" height="13" fill="#eef8fd" stroke="#285a7c" stroke-width="1"/>
<rect x="634.5" y="0.5" width="13.0" height="13" fill="#eef8fd" stroke="#285a7c" stroke-width="1"/>
<rect x="650.5" y="0.5" width="13.0" height="13" fill="#eef8fd" stroke="#285a7c" stroke-width="1"/>
<rect x="604" y="6" width="3" height="2" fill="#1f5a7a"/>
<rect x="608" y="6" width="2" height="2" fill="#1f5a7a"/>
<rect x="611" y="6" width="3" height="2" fill="#1f5a7a"/>
<rect x="608" y="2" width="2" height="3" fill="#1f5a7a"/>
<rect x="608" y="9" width="2" height="3" fill="#1f5a7a"/>
<g stroke="#1f679a" stroke-width="1" fill="none"><line x1="621.5" y1="3" x2="621.5" y2="11.5"/><line x1="620.0" y1="10.5" x2="630.0" y2="10.5"/></g>
<polygon points="621.5,2 619.9,4 623.1,4" fill="#1f679a"/>
<polygon points="621.5,12.5 619.9,10.5 623.1,10.5" fill="#1f679a"/>
<polygon points="630.7,10.5 628.7,8.9 628.7,12.1" fill="#1f679a"/>
<g stroke="#1f679a" stroke-width="1" fill="none"><line x1="637.5" y1="3" x2="637.5" y2="11.5"/><line x1="636.0" y1="10.5" x2="646.0" y2="10.5"/></g>
<polygon points="637.5,2 635.9,4 639.1,4" fill="#1f679a"/>
<polygon points="637.5,12.5 635.9,10.5 639.1,10.5" fill="#1f679a"/>
<polygon points="646.7,10.5 644.7,8.9 644.7,12.1" fill="#1f679a"/>
<rect x="624" y="3.3" width="1.2" height="5.4" fill="#1f679a"/>
<polygon points="625.4,6 627.8,3.8 627.8,8.2" fill="#1f679a"/>
<rect x="640" y="4" width="1" height="5.4" fill="#1f679a"/>
<polygon points="640.2,4 644.8,6.7 640.2,9.4" fill="#1f679a"/>
<rect x="652.6" y="2.7" width="2.8" height="8.6" fill="none" stroke="#285a7c" stroke-width="1"/>
<rect x="653.8" y="6.2" width="4.5" height="1.7" fill="#1f679a"/>
<polygon points="657.4,3.8 661.8,7 657.4,10" fill="#1f679a"/>
<text x="71.8" y="301.5" fill="#222" textLength="84.7" lengthAdjust="spacingAndGlyphs">MACD(26,12,9)</text>
<text x="162.3" y="301.5" fill="#222" textLength="56.4" lengthAdjust="spacingAndGlyphs">DIFF:0.713</text>
<text x="229.4" y="301.5" fill="#2a3470" textLength="56.4" lengthAdjust="spacingAndGlyphs">DEA:0.728</text>
<text x="294.5" y="301.5" fill="#d040d0" textLength="75.9" lengthAdjust="spacingAndGlyphs">MACD:-0.030</text>
<text x="71.6" y="395" fill="#222" textLength="66.9" lengthAdjust="spacingAndGlyphs">RSI(6,12,24)</text>
<text x="143.2" y="395" fill="#222" textLength="66.3" lengthAdjust="spacingAndGlyphs">RSI1:53.577</text>
<text x="218.7" y="395" fill="#2a3470" textLength="65.9" lengthAdjust="spacingAndGlyphs">RSI2:56.630</text>
<text x="294" y="395" fill="#d040d0" textLength="65.2" lengthAdjust="spacingAndGlyphs">RSI3:54.502</text>
<g transform="translate(7.5,387.5)">
<polygon points="-2,-4 2,-4 4,-2 4,2 2,4 -2,4 -4,2 -4,-2" fill="#fff" stroke="#111" stroke-width="1"/>
<circle r="2" fill="#c8143c"/>
<line x1="0" y1="-5.6" x2="0" y2="-7.6" stroke="#5a1a28" stroke-width="1" transform="rotate(0)"/>
<line x1="0" y1="-5.6" x2="0" y2="-7.6" stroke="#5a1a28" stroke-width="1" transform="rotate(45)"/>
<line x1="0" y1="-5.6" x2="0" y2="-7.6" stroke="#5a1a28" stroke-width="1" transform="rotate(90)"/>
<line x1="0" y1="-5.6" x2="0" y2="-7.6" stroke="#5a1a28" stroke-width="1" transform="rotate(135)"/>
<line x1="0" y1="-5.6" x2="0" y2="-7.6" stroke="#5a1a28" stroke-width="1" transform="rotate(180)"/>
<line x1="0" y1="-5.6" x2="0" y2="-7.6" stroke="#5a1a28" stroke-width="1" transform="rotate(225)"/>
<line x1="0" y1="-5.6" x2="0" y2="-7.6" stroke="#5a1a28" stroke-width="1" transform="rotate(270)"/>
<line x1="0" y1="-5.6" x2="0" y2="-7.6" stroke="#5a1a28" stroke-width="1" transform="rotate(315)"/>
</g>
<text x="13" y="479.5" font-weight="bold" fill="#e08a28" style="font-family:'Noto Sans CJK SC',sans-serif">日线</text>
<polygon points="44,478.8 48.1,471.6 52.2,478.8" fill="#e08a28"/>
<text x="152.6" y="476.6" font-weight="bold" fill="#333">2023/11</text>
<text x="305.8" y="476.6" font-weight="bold" fill="#333">2023/12</text>
<text x="453.5" y="476.6" font-weight="bold" fill="#333">2024/01</text>
<text x="607.8" y="476.6" font-weight="bold" fill="#333">2024/02</text>
</svg></body></html>
